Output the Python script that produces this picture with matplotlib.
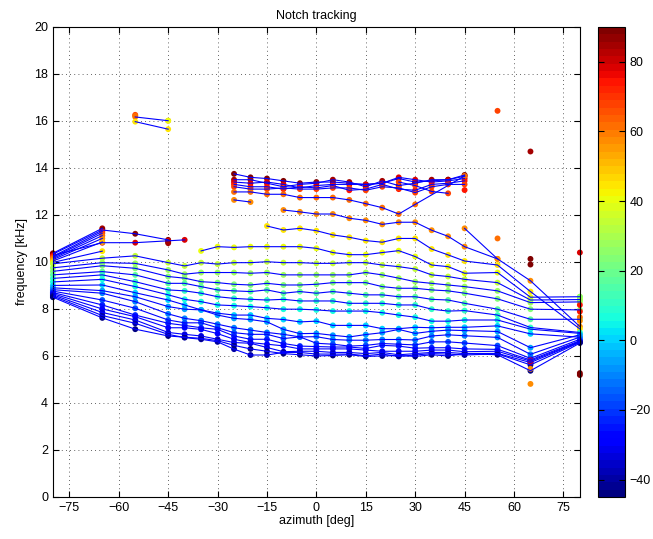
import numpy as np
import matplotlib.pyplot as plt
import matplotlib as mpl

plt.rcParams['font.family'] = ['Liberation Sans', 'DejaVu Sans']

n = np.nan

# azimuth grid [deg]
azimuth = [-80, -65, -55, -45, -40, -35, -30, -25, -20, -15, -10, -5, 0,
           5, 10, 15, 20, 25, 30, 35, 40, 45, 55, 65, 80]

# notch tracks: frequency [kHz] per azimuth, nan where no notch was tracked
tracks = [
    [10.37, 11.43] + [n] * 23,
    [10.33, 11.36, 11.2, 10.94] + [n] * 21,
    [10.28, 10.82, 10.82, 10.9, 10.94] + [n] * 20,
    [10.24, 11.3] + [n] * 23,
    [10.2, 11.22] + [n] * 23,
    [10.15, 11.12] + [n] * 23,
    [10.1, 11.0] + [n] * 23,
    [10.04, 10.85] + [n] * 23,
    [9.98, 10.46] + [n] * 23,
    # 16 kHz pair
    [n, n, 16.17, 16.01] + [n] * 21,
    [n, n, 15.97, 15.65] + [n] * 21,
    # upper bundle, -25..45
    [n] * 7 + [13.75, 13.6, 13.55, 13.45, 13.35, 13.4, 13.4, 13.35, 13.3, 13.35, 13.55, 13.4, 13.45, 13.5, 13.7, n, n, n],
    [n] * 7 + [13.5, 13.5, 13.35, 13.2, 13.3, 13.35, 13.5, 13.4, 13.2, 13.45, 13.25, 13.35, 13.5, 13.5, 13.65, n, n, n],
    [n] * 7 + [13.4, 13.35, 13.4, 13.3, 13.15, 13.25, 13.3, 13.3, 13.3, 13.35, 13.6, 13.5, 13.4, 13.45, 13.55, n, n, n],
    [n] * 7 + [13.3, 13.2, 13.2, 13.1, 13.2, 13.15, 13.25, 13.05, 13.1, 13.3, 13.1, 13.05, 13.3, 13.35, 13.45, n, n, n],
    [n] * 7 + [13.2, 13.1, 13.1, 13.15, 13.1, 13.1, 13.15, 13.15, 13.05, 13.2, 13.15, 12.95, 13.2, 13.3, 13.3, n, n, n],
    [n] * 17 + [13.4, 13.25, 13.0, 12.92, n, n, n, n],
    [n] * 7 + [12.98, 12.98, 12.88, 12.88, 12.74, 12.74, 12.74, 12.64, 12.48, 12.31, 12.04, 12.45, n, n, 13.66, n, n, n],
    [n] * 7 + [12.64, 12.55] + [n] * 16,
    [n] * 10 + [12.21, 12.13, 12.04, 12.04, 11.86, 11.77, 11.6, 11.69, 11.69, 11.35, 11.09, 10.65, 10.13, 9.2, 7.25],
    [n] * 21 + [11.43, 10.13, n, n],
    [n] * 9 + [11.53, 11.36, 11.43, 11.33, 11.15, 11.05, 10.91, 10.84, 11.0, 11.0, 10.55, 10.3, 10.04, 9.87, 8.74, 7.15],
    [n] * 5 + [10.47, 10.65, 10.62, 10.65, 10.65, 10.65, 10.65, 10.58, 10.4, 10.31, 10.31, 10.4, 10.48, 10.23, 9.87, 9.8, 9.52, 9.55, 8.5, 8.52],
    # main bundle
    [9.92, 10.16, 10.26, 9.97, 9.83, 9.97, 9.91, 9.97, 9.97, 10.01, 9.97, 9.97, 9.94, 9.94, 9.97, 9.97, 9.87, 9.8, 9.7, 9.45, 9.38, 9.26, 9.12, 8.38, 8.4],
    [9.75, 9.97, 9.94, 9.66, 9.48, 9.55, 9.55, 9.55, 9.52, 9.55, 9.45, 9.45, 9.45, 9.45, 9.45, 9.55, 9.45, 9.31, 9.16, 9.09, 9.02, 8.95, 8.77, 8.27, 8.3],
    [9.6, 9.84, 9.73, 9.38, 9.31, 9.16, 9.12, 9.05, 9.02, 9.09, 9.02, 9.02, 9.05, 9.12, 9.12, 9.12, 8.95, 8.88, 8.88, 8.81, 8.77, 8.67, 8.43, 7.99, 7.96],
    [9.45, 9.59, 9.45, 9.09, 9.09, 8.95, 8.81, 8.77, 8.74, 8.81, 8.67, 8.74, 8.67, 8.74, 8.67, 8.6, 8.6, 8.52, 8.52, 8.41, 8.38, 8.24, 7.99, 7.56, 7.56],
    [9.3, 9.45, 9.16, 8.81, 8.77, 8.67, 8.52, 8.45, 8.41, 8.38, 8.41, 8.34, 8.34, 8.34, 8.24, 8.24, 8.24, 8.17, 8.17, 7.99, 7.91, 7.93, 7.74, 7.21, 7.0],
    [9.15, 9.26, 8.95, 8.6, 8.41, 8.31, 8.17, 8.14, 8.1, 8.05, 7.99, 7.99, 7.96, 7.91, 7.91, 7.91, 7.84, 7.74, 7.65, 7.48, 7.48, 7.53, 7.53, 7.14, 6.96],
    [9.0, 9.02, 8.69, 8.38, 8.17, 7.96, 7.82, 7.74, 7.74, 7.6, 7.55, 7.45, 7.48, 7.3, 7.3, 7.3, 7.16, 7.16, 7.22, 7.2, 7.22, 7.22, 7.28, 6.94, 6.8],
    [8.9, 8.78, 8.52, 8.1, 7.99, 7.96, 7.74, 7.6, 7.55, 7.45, 7.13, 6.95, 6.96, 6.88, 6.81, 6.91, 6.99, 7.13, 6.96, 7.05, 7.1, 7.08, 7.04, 6.35, 6.9],
    [8.82, 8.67, 8.31, 7.79, 7.6, 7.5, 7.35, 7.2, 7.1, 7.0, 6.92, 6.81, 6.82, 6.7, 6.67, 6.67, 6.7, 6.7, 6.68, 6.85, 6.9, 6.86, 6.79, 6.07, 6.8],
    [8.76, 8.38, 8.03, 7.53, 7.41, 7.41, 7.2, 6.99, 6.92, 6.92, 6.74, 6.81, 6.54, 6.5, 6.42, 6.45, 6.53, 6.5, 6.47, 6.6, 6.6, 6.55, 6.44, 5.9, 6.71],
    [8.7, 8.17, 7.74, 7.39, 7.3, 7.2, 7.13, 6.85, 6.71, 6.71, 6.53, 6.42, 6.4, 6.38, 6.38, 6.32, 6.45, 6.42, 6.33, 6.35, 6.35, 6.3, 6.28, 5.83, 6.65],
    [8.65, 8.0, 7.67, 7.2, 7.2, 7.13, 6.95, 6.71, 6.57, 6.5, 6.43, 6.3, 6.3, 6.3, 6.3, 6.25, 6.2, 6.2, 6.2, 6.25, 6.25, 6.18, 6.2, 5.78, 6.62],
    [8.6, 7.85, 7.53, 7.0, 6.92, 6.85, 6.71, 6.57, 6.54, 6.36, 6.18, 6.2, 6.2, 6.15, 6.15, 6.1, 6.15, 6.05, 6.1, 6.15, 6.15, 6.1, 6.11, 5.72, 6.6],
    [8.55, 7.72, 7.39, 6.92, 6.78, 6.71, 6.6, 6.29, 6.04, 6.04, 6.15, 6.15, 6.08, 6.08, 6.08, 6.01, 6.08, 5.98, 6.04, 6.1, 6.08, 6.04, 6.09, 5.62, 6.58],
    [8.5, 7.62, 7.14, 6.85, 6.8, 6.75, 6.65, 6.45, 6.3, 6.2, 6.1, 6.05, 6.0, 6.02, 6.05, 5.98, 6.0, 6.02, 5.98, 6.05, 6.0, 6.1, 6.05, 5.37, 6.55],
]

# elevation [deg] of each track
track_elev = [84.375, 90, 78.75, 73.125, 67.5, 61.875, 56.25, 50.625, 45,
              56.25, 45,
              90, 84.375, 78.75, 73.125, 67.5, 67.5,
              61.875, 56.25, 56.25, 56.25, 45, 39.375,
              33.75, 28.125, 22.5, 16.875, 11.25, 5.625, 0,
              -5.625, -11.25, -16.875, -22.5, -28.125, -33.75, -39.375, -45]

# notches without a neighbour: azimuth, frequency, elevation
single_az = [-55, -55, -45, -45, -45, 45, 55, 65, 55, 65, 65, 80, 80, 80,
             65, 65, 65, 65, 80, 80, 80, 80, 80, 80]
single_freq = [16.26, 16.22, 16.01, 10.85, 10.8, 13.06, 16.43, 14.7, 11.0,
               10.13, 9.89, 10.4, 5.27, 5.19, 4.81, 5.45, 5.83, 5.72,
               8.17, 7.89, 7.65, 7.49, 8.52, 8.4]
single_elev = [67.5, 61.875, 39.375, 90, 84.375, 73.125, 67.5, 84.375,
               61.875, 90, 90, 78.75, 90, 90, 56.25, 56.25, 73.125, 78.75,
               73.125, 73.125, 61.875, 56.25, 22.5, 28.125]

cmap = plt.get_cmap('jet', 64)
norm = mpl.colors.Normalize(vmin=-45, vmax=90)

fig = plt.figure(figsize=(6.53, 5.39), dpi=100)
ax = fig.add_axes([0.081, 0.078, 0.807, 0.872])
cax = fig.add_axes([0.916, 0.078, 0.041, 0.872])

# coloured dots first, blue track lines drawn over them
az = np.array(azimuth, dtype=float)
for f, e in zip(tracks, track_elev):
    f = np.array(f, dtype=float)
    ok = ~np.isnan(f)
    ax.scatter(az[ok], f[ok], s=18, c=[e] * ok.sum(), cmap=cmap, norm=norm,
               edgecolors='none', zorder=2, clip_on=False)
    ax.plot(az[ok], f[ok], '-', color=(0, 0, 1), lw=0.8, zorder=3)

ax.scatter(single_az, single_freq, s=18, c=single_elev, cmap=cmap, norm=norm,
           edgecolors='none', zorder=2, clip_on=False)

ax.set_xlim(-80, 80)
ax.set_ylim(0, 20)
ax.set_xticks(np.arange(-75, 76, 15))
ax.set_yticks(np.arange(0, 21, 2))
ax.grid(True, linestyle=(0, (1, 4)), color='#303030', linewidth=0.6)
ax.tick_params(direction='in', top=True, right=True, length=4, labelsize=9)
ax.set_title('Notch tracking', fontsize=9)
ax.set_xlabel('azimuth [deg]', fontsize=9, labelpad=1)
ax.set_ylabel('frequency [kHz]', fontsize=9, labelpad=4)

cb = fig.colorbar(mpl.cm.ScalarMappable(norm=norm, cmap=cmap), cax=cax)
cb.set_ticks(np.arange(-40, 81, 20))
cb.ax.tick_params(direction='in', left=True, right=True, length=4, labelsize=9)
cb.outline.set_linewidth(0.8)

plt.savefig('out.png', dpi=100)
